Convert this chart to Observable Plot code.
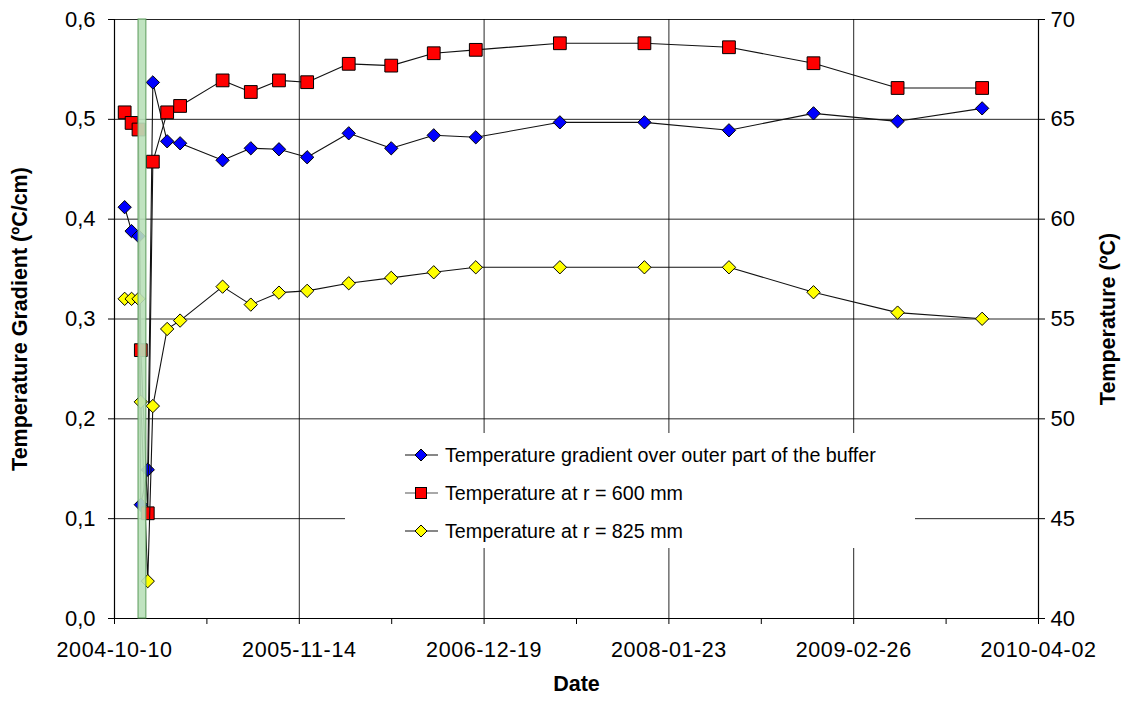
<!DOCTYPE html>
<html><head><meta charset="utf-8">
<script src="https://cdn.jsdelivr.net/npm/d3@7"></script>
<script src="https://cdn.jsdelivr.net/npm/@observablehq/plot@0.6"></script>
<style>
body{margin:0;background:#fff;font-family:"Liberation Sans",Arial,sans-serif;}
#wrap{position:relative;width:1126px;height:706px;}
#legend{position:absolute;left:345px;top:433px;width:570px;height:115px;background:#fff;}
.item{position:absolute;left:60px;height:30px;display:flex;align-items:center;font-size:19.7px;color:#000;white-space:nowrap;}
.item svg{margin-right:7px;}
</style></head><body><div id="wrap"></div>
<script>
// ---- data ----
const dates = ["2004-11-01","2004-11-16","2004-12-01","2004-12-06","2004-12-21","2005-01-01","2005-02-01","2005-03-01","2005-06-01","2005-08-01","2005-10-01","2005-12-01","2006-03-01","2006-06-01","2006-09-01","2006-12-01","2007-06-01","2007-12-01","2008-06-01","2008-12-01","2009-06-01","2009-12-01"];
const gradient = [0.412,0.388,0.383,0.114,0.149,0.537,0.478,0.476,0.459,0.471,0.470,0.462,0.486,0.471,0.484,0.482,0.497,0.497,0.489,0.506,0.498,0.511];
const temp600 = [65.35,64.82,64.49,53.44,45.27,62.88,65.35,65.67,66.95,66.37,66.95,66.86,67.78,67.69,68.31,68.48,68.81,68.81,68.61,67.81,66.57,66.57];
const temp825 = [56.01,56.01,56.01,50.85,41.87,50.64,54.50,54.92,56.62,55.72,56.32,56.41,56.79,57.06,57.34,57.59,57.59,57.59,57.59,56.34,55.32,55.01];
const seriesNames = ["Temperature gradient over outer part of the buffer","Temperature at r = 600 mm","Temperature at r = 825 mm"];
const xTickLabels = ["2004-10-10","2005-11-14","2006-12-19","2008-01-23","2009-02-26","2010-04-02"];
const yTicks = [0,0.1,0.2,0.3,0.4,0.5,0.6];
const rightTicks = [40,45,50,55,60,65,70];
const bandDates = ["2004-12-01","2004-12-18"];

// ---- build ----
const parse = d3.utcParse("%Y-%m-%d");
const fmt = d3.utcFormat("%Y-%m-%d");
const rightMin = rightTicks[0], rightMax = rightTicks[rightTicks.length-1];
const yMax = yTicks[yTicks.length-1];
const toLeft = t => (t - rightMin) / (rightMax - rightMin) * yMax;
const rows = dates.map((d,i)=>({date: parse(d), g: gradient[i], t600: toLeft(temp600[i]), t825: toLeft(temp825[i])}));
const majorX = xTickLabels.map(parse);
const minorX = d3.pairs(majorX).map(([a,b]) => new Date((+a + +b)/2));
const band = [{x1: parse(bandDates[0]), x2: parse(bandDates[1])}];

const lineStyle = {stroke:"#111", strokeWidth:1.1};
const svg = Plot.plot({
  width: 1126, height: 706,
  marginLeft: 114, marginRight: 88, marginTop: 19, marginBottom: 88,
  style: {fontFamily: '"Liberation Sans", Arial, sans-serif', background: "#fff", color: "#000", overflow: "visible"},
  x: {type: "utc", domain: [majorX[0], majorX[majorX.length-1]]},
  y: {domain: [0, yMax]},
  marks: [
    Plot.gridY(yTicks, {stroke: "#000", strokeOpacity: 0.85}),
    Plot.gridX(majorX, {stroke: "#000", strokeOpacity: 0.85}),
    Plot.ruleX([majorX[0], majorX[majorX.length-1]], {stroke: "#000", strokeWidth: 1.2}),
    Plot.ruleY([0], {stroke: "#000", strokeWidth: 1.2}),
    Plot.axisY(yTicks, {anchor: "left", tickSize: 6, tickPadding: 13, fontSize: 22, label: null,
      tickFormat: d => d.toFixed(1).replace(".", ",")}),
    Plot.axisY(yTicks, {anchor: "right", tickSize: 6, tickPadding: 6, fontSize: 22, label: null,
      tickFormat: (d,i) => String(rightTicks[i])}),
    Plot.axisX(majorX, {anchor: "bottom", tickSize: 6, tickPadding: 17, fontSize: 21.5, label: null, tickFormat: fmt}),
    Plot.axisX(minorX, {anchor: "bottom", tickSize: 6, label: null, tickFormat: () => ""}),
    // series
    Plot.line(rows, {x: "date", y: "g", ...lineStyle}),
    Plot.dot(rows, {x: "date", y: "g", symbol: "diamond2", r: 6, fill: "#0000ff", stroke: "#000", strokeWidth: 1}),
    Plot.line(rows, {x: "date", y: "t600", ...lineStyle}),
    Plot.dot(rows, {x: "date", y: "t600", symbol: "square", r: 7.2, fill: "#ff0000", stroke: "#000", strokeWidth: 1}),
    Plot.line(rows, {x: "date", y: "t825", ...lineStyle}),
    Plot.dot(rows, {x: "date", y: "t825", symbol: "diamond2", r: 6, fill: "#ffff00", stroke: "#000", strokeWidth: 1}),
    // green band
    Plot.rect(band, {x1: "x1", x2: "x2", y1: 0, y2: yMax, fill: "#b9e0b9", fillOpacity: 0.9, stroke: "#5a9a5a", strokeWidth: 1, ariaLabel: "band"}),
    // titles
    Plot.text(["Temperature Gradient (ºC/cm)"], {frameAnchor: "left", textAnchor: "middle", dx: -94, rotate: -90, fontSize: 21.5, fontWeight: "bold"}),
    Plot.text(["Temperature (ºC)"], {frameAnchor: "right", textAnchor: "middle", dx: 70, rotate: -90, fontSize: 21.5, fontWeight: "bold"}),
    Plot.text(["Date"], {frameAnchor: "bottom", textAnchor: "middle", dy: 72, fontSize: 21.5, fontWeight: "bold"})
  ]
});

// hatch pattern for band
const defs = d3.select(svg).insert("defs", ":first-child");
const pat = defs.append("pattern").attr("id", "hatch").attr("width", 3).attr("height", 3).attr("patternUnits", "userSpaceOnUse");
pat.append("rect").attr("width", 3).attr("height", 3).attr("fill", "#c4e8c4");
pat.append("rect").attr("width", 1).attr("height", 1).attr("fill", "#6aa86a");
d3.select(svg).selectAll('g[aria-label="band"] rect').attr("fill", "url(#hatch)");
d3.select(svg).selectAll('g[aria-label="x-axis tick label"] text').attr("letter-spacing", "0.6px");

const wrap = document.getElementById("wrap");
wrap.appendChild(svg);

// legend
const legend = document.createElement("div");
legend.id = "legend";
const markers = [
  '<polygon points="16,2 22,8 16,14 10,8" fill="#0000ff" stroke="#000"/>',
  '<rect x="10.5" y="2.5" width="11" height="11" fill="#ff0000" stroke="#000"/>',
  '<polygon points="16,2 22,8 16,14 10,8" fill="#ffff00" stroke="#000"/>'
];
const lineColors = ["#111", "#555", "#111"];
seriesNames.forEach((name, i) => {
  const it = document.createElement("div");
  it.className = "item";
  it.style.top = (7 + i * 38) + "px";
  it.innerHTML = `<svg width="33" height="16"><line x1="0" x2="33" y1="8" y2="8" stroke="${lineColors[i]}" stroke-width="1.2"/>${markers[i]}</svg><span>${name}</span>`;
  legend.appendChild(it);
});
wrap.appendChild(legend);
</script></body></html>
